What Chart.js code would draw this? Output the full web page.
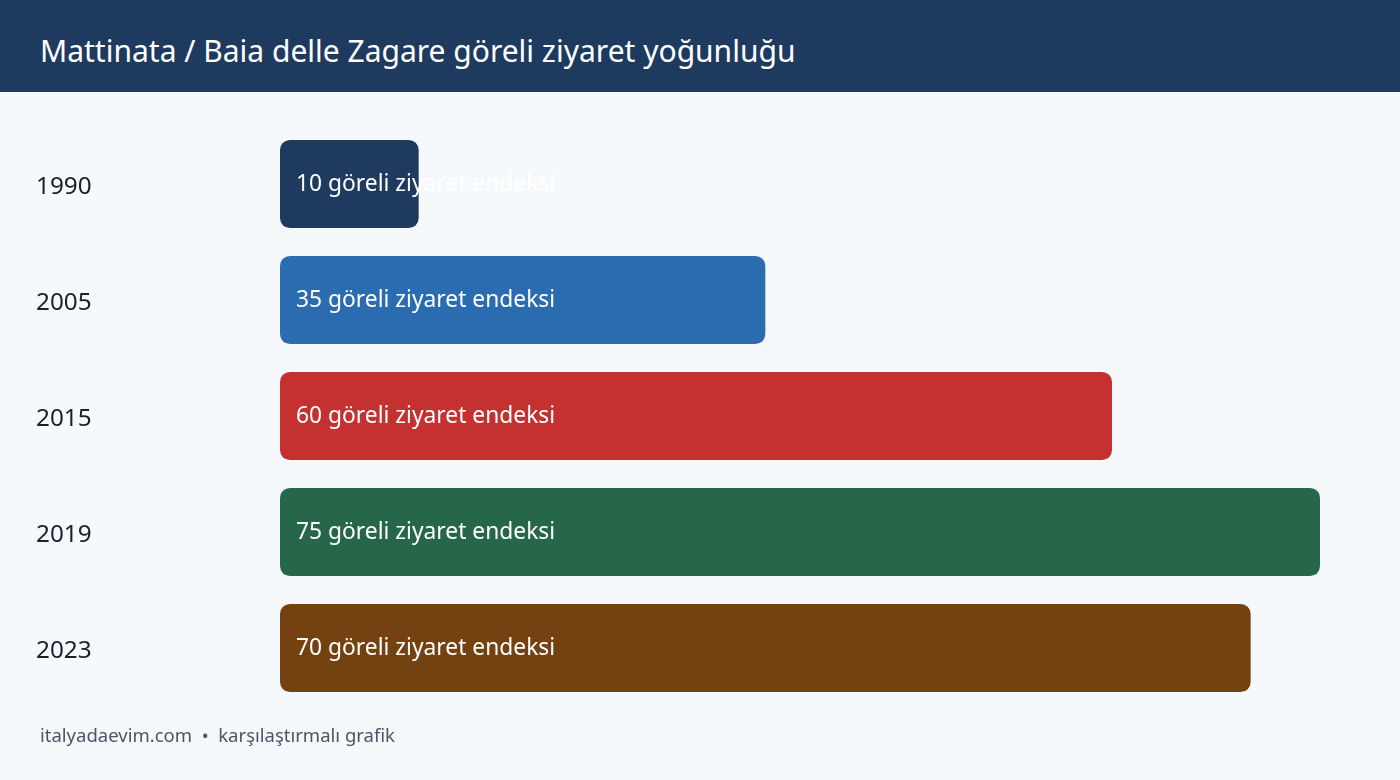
<!DOCTYPE html>
<html lang="tr">
<head>
<meta charset="utf-8">
<title>Mattinata / Baia delle Zagare</title>
<script src="https://cdn.jsdelivr.net/npm/chart.js@4/dist/chart.umd.min.js"></script>
<style>
  html, body { margin: 0; padding: 0; }
  body {
    width: 1400px; height: 780px; overflow: hidden; position: relative;
    background: #f6f9fc;
    font-family: "Segoe UI", "Noto Sans", sans-serif;
  }
  .header {
    position: absolute; left: 0; top: 0; width: 1400px; height: 92px;
    background: #1f3a5f;
  }
  .header h1 {
    margin: 0; position: absolute; left: 40px; top: 31px;
    font-size: 30px; font-weight: 400; color: #ffffff; line-height: 40px;
    white-space: nowrap;
  }
  .chart-wrap {
    position: absolute; left: 0; top: 92px; width: 1400px; height: 640px;
  }
  .footer {
    position: absolute; left: 40px; top: 722px;
    font-size: 18.5px; color: #4a5568; line-height: 26px;
  }
</style>
</head>
<body>
<div class="header"><h1>Mattinata / Baia delle Zagare göreli ziyaret yoğunluğu</h1></div>
<div class="chart-wrap"><canvas id="visitChart"></canvas></div>
<div class="footer">italyadaevim.com &nbsp;•&nbsp; karşılaştırmalı grafik</div>

<script>
const years = ['1990', '2005', '2015', '2019', '2023'];
const visitIndex = [10, 35, 60, 75, 70];
const barColors = ['#1f3a5f', '#2b6cb0', '#c53030', '#276749', '#744210'];
const unitLabel = 'göreli ziyaret endeksi';

const FONT = '"Segoe UI", "Noto Sans", sans-serif';

// writes "NN göreli ziyaret endeksi" inside each bar, near its left end
const barLabels = {
    id: 'barLabels',
    afterDatasetsDraw(chart) {
        const ctx = chart.ctx;
        const meta = chart.getDatasetMeta(0);
        ctx.save();
        ctx.font = `22.8px ${FONT}`;
        ctx.fillStyle = '#ffffff';
        ctx.textAlign = 'left';
        ctx.textBaseline = 'middle';
        meta.data.forEach((bar, i) => {
            ctx.fillText(`${visitIndex[i]} ${unitLabel}`, bar.base + 16, bar.y + 1);
        });
        ctx.restore();
    }
};

const ctx = document.getElementById('visitChart').getContext('2d');

new Chart(ctx, {
    type: 'bar',
    data: {
        labels: years,
        datasets: [{
            data: visitIndex,
            backgroundColor: barColors,
            borderRadius: 10,
            borderSkipped: false,
            barPercentage: 0.76,
            categoryPercentage: 1
        }]
    },
    options: {
        indexAxis: 'y',
        responsive: true,
        maintainAspectRatio: false,
        animation: false,
        layout: {
            padding: { left: 36, right: 80, top: 34, bottom: 26 }
        },
        scales: {
            x: {
                display: false,
                min: 0,
                max: 75
            },
            y: {
                grid: { display: false },
                border: { display: false },
                ticks: {
                    color: '#1a202c',
                    font: { family: FONT, size: 24.3 },
                    crossAlign: 'far',
                    padding: 0,
                    labelOffset: 3
                },
                afterFit(scale) { scale.width = 244; }
            }
        },
        plugins: {
            legend: { display: false },
            tooltip: { enabled: false }
        }
    },
    plugins: [barLabels]
});
</script>
</body>
</html>
